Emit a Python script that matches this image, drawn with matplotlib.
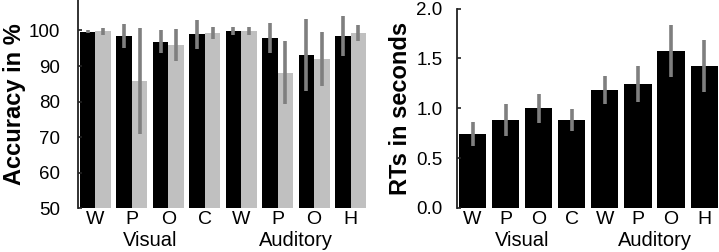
import numpy as np
import matplotlib
matplotlib.use("Agg")
import matplotlib.pyplot as plt
import matplotlib.transforms as mtransforms

plt.rcParams['font.family'] = ['Liberation Sans', 'DejaVu Sans']

# Conditions (tick labels) and modality groups
conds = ['W', 'P', 'O', 'C', 'W', 'P', 'O', 'H']
groups = ['Visual', 'Auditory']
group_centers = [1.5, 5.5]

# Accuracy in % (black and grey series) with error half-widths
acc_black = [99.6, 98.5, 96.9, 98.9, 99.9, 97.9, 93.2, 98.5]
acc_black_err = [0.4, 3.3, 3.3, 4.0, 1.1, 4.2, 10.1, 5.7]
acc_grey = [99.8, 85.8, 96.0, 99.3, 99.9, 88.2, 92.0, 99.3]
acc_grey_err = [1.0, 15.0, 4.5, 1.7, 1.1, 8.8, 7.5, 2.3]

# Reaction times in seconds
rt = [0.74, 0.88, 1.0, 0.88, 1.18, 1.245, 1.575, 1.423]
rt_err = [0.12, 0.16, 0.145, 0.11, 0.14, 0.18, 0.26, 0.26]

W, H = 719, 252
fig = plt.figure(figsize=(W / 100, H / 100), dpi=100)

err_kw = dict(ecolor='#7f7f7f', elinewidth=2.6, capsize=0)


def style_axis(ax, ypad):
    for s in ['top', 'right', 'bottom']:
        ax.spines[s].set_visible(False)
    ax.spines['left'].set_linewidth(1.3)
    ax.spines['left'].set_color('#222222')
    ax.tick_params(axis='y', direction='in', length=3, width=1.2,
                   labelsize=13.5, pad=ypad, color='#222222')
    ax.tick_params(axis='x', length=0, labelsize=14, pad=2)
    x = np.arange(len(conds))
    ax.set_xticks(x)
    ax.set_xticklabels(conds)
    trans = mtransforms.blended_transform_factory(ax.transData, fig.transFigure)
    for g, c in zip(groups, group_centers):
        ax.text(c, 1 - 240 / H, g, transform=trans, ha='center', va='center',
                fontsize=14.5)


# Left panel: accuracy
ax1 = fig.add_axes([78 / W, 1 - 208.5 / H, 290 / W, 208.5 / H])
x = np.arange(len(conds))
bw = 0.425
ax1.bar(x - bw / 2, np.array(acc_black) - 50, bw, bottom=50, color='black',
        yerr=acc_black_err, error_kw=err_kw)
ax1.bar(x + bw / 2, np.array(acc_grey) - 50, bw, bottom=50, color='#c0c0c0',
        yerr=acc_grey_err, error_kw=err_kw)
ax1.set_xlim(-0.48, 7.48)
ax1.set_ylim(50, 50 + 208.5 / 3.56)
ax1.set_yticks([50, 60, 70, 80, 90, 100])
ax1.set_ylabel('Accuracy in %', fontsize=17, fontweight='bold', labelpad=2)
style_axis(ax1, 13)
ax1.spines['left'].set_bounds(50, 50 + 208.5 / 3.56)

# Right panel: reaction times
ax2 = fig.add_axes([457 / W, 1 - 208 / H, 262 / W, 199.5 / H])
ax2.bar(x, rt, 0.82, color='black', yerr=rt_err, error_kw=err_kw)
ax2.set_xlim(-0.47, 7.45)
ax2.set_ylim(0, 2.0)
ax2.set_yticks([0.0, 0.5, 1.0, 1.5, 2.0])
ax2.set_yticklabels(['0.0', '0.5', '1.0', '1.5', '2.0'])
ax2.set_ylabel('RTs in seconds', fontsize=17, fontweight='bold', labelpad=3)
style_axis(ax2, 10.5)

fig.savefig('out.png', dpi=100)
